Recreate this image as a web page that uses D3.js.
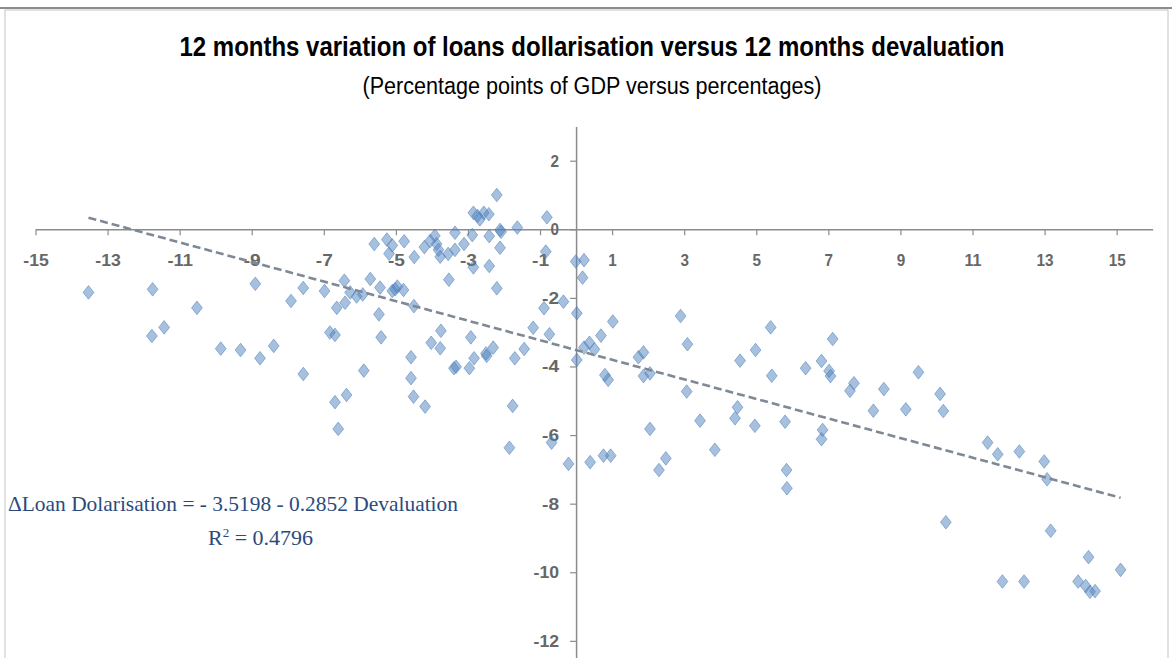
<!DOCTYPE html>
<html>
<head>
<meta charset="utf-8">
<script src="https://cdn.jsdelivr.net/npm/d3@7"></script>
<style>
  body { margin: 0; background: #fff; }
  svg { display: block; }
</style>
</head>
<body>
<div id="chart"></div>
<script>
// devaluation (x, %) and loan dollarisation change (y, pp of GDP)
var devaluation = [
  -13.53, -11.75, -11.77, -11.43, -10.52, -9.86, -9.31, -8.90, -8.77, -8.39,
  -7.91, -7.57, -7.57, -6.98, -6.83, -6.69, -6.69, -6.37, -6.43, -6.64,
  -6.41, -6.27, -6.09, -5.92, -5.89, -5.71, -5.60, -5.47, -5.41, -5.44,
  -5.25, -5.19, -5.10, -5.10, -4.96, -4.79, -5.02, -4.77, -4.49, -4.50,
  -4.21, -4.05, -3.92, -3.87, -3.82, -3.77, -3.53, -3.75, -4.02, -3.77,
  -4.58, -4.58, -4.51, -4.19, -6.60, -2.20, -2.85, -2.74, -2.67, -2.56,
  -2.42, -0.81, -3.36, -2.88, -2.41, -2.11, -2.08, -1.63, -3.55, -3.36,
  -3.11, -2.11, -0.84, -0.01, 0.22, -2.85, -2.41, -2.20, 0.18, -0.89,
  -0.35, 0.02, -3.39, -3.33, -2.96, -2.92, -2.83, -2.50, -2.48, -2.30,
  -1.70, -1.44, -1.19, -0.74, 0.02, -1.76, 0.22, 0.37, 0.51, 0.69,
  1.02, 0.80, 0.89, 1.73, 1.87, 1.87, 2.05, 2.90, 3.09, 3.07,
  3.44, 4.41, 4.48, 4.55, 4.98, 5.40, 5.43, -1.85, -0.68, -0.21,
  0.39, 2.05, 3.85, 2.49, 2.30, 0.76, 0.96, 4.96, 5.80, 5.84,
  5.85, 7.12, 6.81, 6.37, 7.02, 7.06, 7.71, 7.60, 8.54, 9.50,
  10.10, 10.19, 8.25, 9.15, 6.84, 6.81, 10.26, 11.42, 11.70, 12.30,
  12.99, 13.07, 13.17, 14.22, 15.11, 11.83, 12.43, 13.93, 14.14, 14.26,
  14.40
];
var loanDollarisation = [
  -1.84, -1.75, -3.11, -2.86, -2.29, -3.48, -3.52, -1.59, -3.76, -3.40,
  -2.09, -1.71, -4.22, -1.80, -3.01, -3.08, -5.04, -4.83, -1.50, -2.29,
  -2.14, -1.84, -1.96, -1.90, -4.12, -1.45, -0.43, -2.48, -3.15, -1.70,
  -0.30, -0.71, -0.47, -1.80, -1.67, -1.77, -1.75, -0.35, -0.81, -2.24,
  -0.52, -0.34, -0.19, -0.43, -0.60, -0.80, -1.47, -2.96, -3.31, -3.47,
  -3.73, -4.34, -4.88, -5.17, -5.82, 1.00, 0.48, 0.39, 0.29, 0.48,
  0.44, 0.35, -0.10, -0.17, -0.20, -0.02, -0.07, 0.05, -0.72, -0.60,
  -0.43, -0.54, -0.65, -0.94, -0.90, -1.11, -1.07, -1.72, -1.41, -2.30,
  -2.11, -2.45, -4.05, -4.01, -4.05, -3.15, -3.76, -3.62, -3.69, -3.45,
  -3.76, -3.49, -2.87, -3.06, -3.81, -5.15, -3.45, -3.31, -3.50, -3.10,
  -2.69, -4.25, -4.39, -3.73, -3.59, -4.28, -4.20, -2.53, -3.35, -4.73,
  -5.58, -5.51, -5.19, -3.83, -3.52, -2.86, -4.27, -6.37, -6.22, -6.84,
  -6.79, -5.82, -6.43, -6.68, -7.02, -6.60, -6.60, -5.73, -5.61, -7.02,
  -7.55, -3.20, -3.84, -4.05, -4.13, -4.28, -4.49, -4.71, -4.66, -4.17,
  -4.80, -5.30, -5.29, -5.25, -5.85, -6.12, -8.54, -6.22, -6.56, -6.48,
  -6.77, -7.29, -8.79, -9.56, -9.93, -10.27, -10.27, -10.27, -10.40, -10.57,
  -10.55
];
var xTicks = [-15, -13, -11, -9, -7, -5, -3, -1, 1, 3, 5, 7, 9, 11, 13, 15];
var yTicks = [2, 0, -2, -4, -6, -8, -10, -12];
var trendIntercept = -3.5198;
var trendSlope = -0.2852;

var title = "12 months variation of loans dollarisation versus 12 months devaluation";
var subtitle = "(Percentage points of GDP versus percentages)";
var equation = "\u0394Loan Dolarisation = - 3.5198 - 0.2852 Devaluation";
var rSquared = "0.4796";

var width = 1172, height = 658;

var svg = d3.select("#chart").append("svg")
    .attr("width", width)
    .attr("height", height);

// frame
svg.append("rect")
    .attr("x", 5).attr("y", 10)
    .attr("width", 1163).attr("height", 660)
    .attr("fill", "none")
    .attr("stroke", "#c4c4c4")
    .attr("stroke-width", 1);
svg.append("line")
    .attr("x1", 0).attr("x2", width)
    .attr("y1", 8).attr("y2", 8)
    .attr("stroke", "#8c8c8c")
    .attr("stroke-width", 2);

var x = d3.scaleLinear().domain([-15, 16]).range([35.5, 1152.7]);
var y = d3.scaleLinear().domain([3, -12.5]).range([126.4, 658]);

var labelFont = "'Liberation Sans Narrow', 'Arial Narrow', 'Liberation Sans', sans-serif";

// x axis through y = 0
var xAxis = svg.append("g")
    .attr("transform", "translate(0," + y(0) + ")")
    .call(d3.axisBottom(x).tickValues(xTicks).tickSize(6).tickSizeOuter(0)
        .tickFormat(function(d) { return String(d); }));
xAxis.select(".domain").attr("stroke", "#8c8c8c").attr("stroke-width", 1.5);
xAxis.selectAll(".tick line").attr("stroke", "#8c8c8c").attr("stroke-width", 1.2);
xAxis.selectAll(".tick text")
    .attr("y", 31).attr("dy", "0.35em")
    .attr("font-family", labelFont)
    .attr("font-weight", "bold")
    .attr("font-size", 17)
    .attr("textLength", function(d) { return String(d).length * 8.5; })
    .attr("lengthAdjust", "spacingAndGlyphs")
    .attr("fill", "#676767");

// y axis through x = 0
var yAxis = svg.append("g")
    .attr("transform", "translate(" + x(0) + ",0)")
    .call(d3.axisLeft(y).tickValues(yTicks).tickSize(6).tickSizeOuter(0)
        .tickFormat(function(d) { return String(d); }));
yAxis.select(".domain").attr("stroke", "#8c8c8c").attr("stroke-width", 1.5);
yAxis.selectAll(".tick line").attr("stroke", "#8c8c8c").attr("stroke-width", 1.2);
yAxis.selectAll(".tick text")
    .attr("x", -17)
    .attr("font-family", labelFont)
    .attr("font-weight", "bold")
    .attr("font-size", 17)
    .attr("textLength", function(d) { return String(d).length * 8.5; })
    .attr("lengthAdjust", "spacingAndGlyphs")
    .attr("fill", "#676767");

// points
var points = devaluation.map(function(d, i) { return [d, loanDollarisation[i]]; });

var diamond = "M0,-6.8L5.4,0L0,6.8L-5.4,0Z";
svg.append("g").selectAll("path")
    .data(points)
    .enter().append("path")
    .attr("d", diamond)
    .attr("transform", function(d) { return "translate(" + x(d[0]) + "," + y(d[1]) + ")"; })
    .attr("fill", "#4f81bd")
    .attr("fill-opacity", 0.5)
    .attr("stroke", "#4f81bd")
    .attr("stroke-opacity", 0.55)
    .attr("stroke-width", 1);

// trend line over data range
var xExt = d3.extent(devaluation);
var trend = d3.line()
    .x(function(d) { return x(d); })
    .y(function(d) { return y(trendIntercept + trendSlope * d); });
svg.append("path")
    .datum(xExt)
    .attr("d", trend)
    .attr("fill", "none")
    .attr("stroke", "#7f8996")
    .attr("stroke-width", 2.6)
    .attr("stroke-dasharray", "8,4");

// titles
svg.append("text")
    .attr("x", 592).attr("y", 56)
    .attr("text-anchor", "middle")
    .attr("font-family", labelFont)
    .attr("font-weight", "bold")
    .attr("font-size", 27)
    .attr("textLength", 825)
    .attr("lengthAdjust", "spacingAndGlyphs")
    .attr("fill", "#000")
    .text(title);

svg.append("text")
    .attr("x", 592).attr("y", 94)
    .attr("text-anchor", "middle")
    .attr("font-family", labelFont)
    .attr("font-size", 23)
    .attr("textLength", 459)
    .attr("lengthAdjust", "spacingAndGlyphs")
    .attr("fill", "#000")
    .text(subtitle);

// regression equation
var eqFont = "'Liberation Serif', 'Times New Roman', serif";
svg.append("text")
    .attr("x", 8).attr("y", 511)
    .attr("font-family", eqFont)
    .attr("font-size", 22)
    .attr("textLength", 450)
    .attr("lengthAdjust", "spacingAndGlyphs")
    .attr("fill", "#2b4a7c")
    .text(equation);

var r2 = svg.append("text")
    .attr("x", 208).attr("y", 545)
    .attr("font-family", eqFont)
    .attr("font-size", 22)
    .attr("fill", "#2b4a7c");
r2.append("tspan").text("R");
r2.append("tspan").attr("font-size", 13).attr("dy", -8).text("2");
r2.append("tspan").attr("dy", 8).text(" = " + rSquared);
</script>
</body>
</html>
